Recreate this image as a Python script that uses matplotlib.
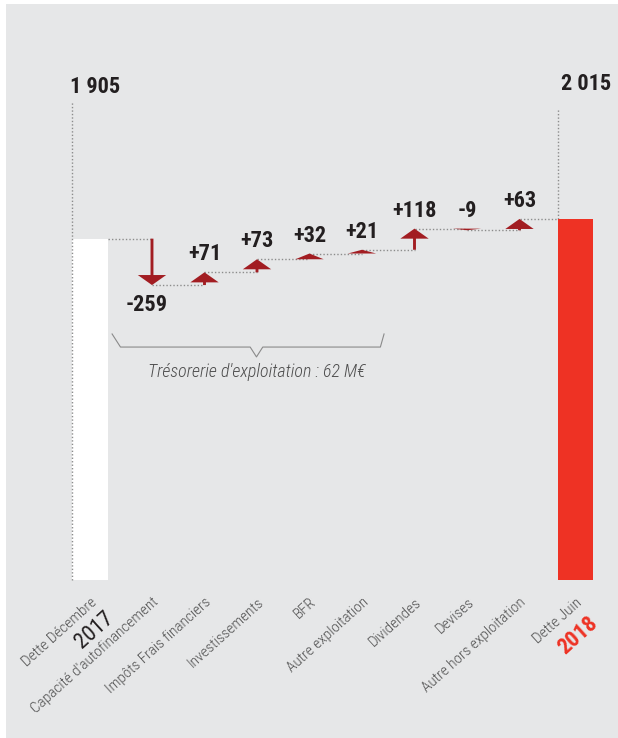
import matplotlib
matplotlib.use("Agg")
import matplotlib.pyplot as plt
import numpy as np
from matplotlib import font_manager as fm
from matplotlib.patches import Rectangle, FancyArrow

# data
categories = ["Dette Décembre", "Capacité d'autofinancement", "Impôts Frais financiers",
              "Investissements", "BFR", "Autre exploitation", "Dividendes", "Devises",
              "Autre hors exploitation", "Dette Juin"]
years = ["2017", "2018"]
start_debt = 1905
end_debt = 2015
changes = [-259, 71, 73, 32, 21, 118, -9, 63]
change_labels = ["-259", "+71", "+73", "+32", "+21", "+118", "-9", "+63"]
total_labels = ["1 905", "2 015"]
bracket_text = "Trésorerie d'exploitation : 62 M€"

# pick a narrow font if there is one
names = {f.name for f in fm.fontManager.ttflist}
stretch = "normal"
if "Liberation Sans Narrow" in names:
    fam = ["Liberation Sans Narrow", "DejaVu Sans"]
elif "Roboto Condensed" in names:
    fam = ["Roboto Condensed", "DejaVu Sans"]
else:
    fam = ["DejaVu Sans"]
    stretch = "condensed"
plt.rcParams["font.family"] = fam
plt.rcParams["font.stretch"] = stretch

BG = "#e6e7e8"
DARK = "#a21d22"
RED = "#ee3224"
DOT = "#8c8c8c"
TXT = "#231f20"
GREY_TXT = "#4d4d4d"
ROT = 42

fig = plt.figure(figsize=(6.18, 7.38), dpi=100, facecolor="white")
fig.patches.append(Rectangle((6 / 618, 0), 612 / 618, 734 / 738, transform=fig.transFigure,
                             facecolor=BG, edgecolor="none", zorder=-10))
ax = fig.add_axes([0, 0, 1, 1])
ax.set_facecolor("none")
ax.set_xlim(-1.895, 9.876)
ax.set_ylim(-882, 3237)
ax.axis("off")

xs = np.arange(len(categories), dtype=float)
xs[0] -= 0.18
xs[-1] += 0.06
bw = 0.67

# end bars
ax.bar([xs[0], xs[-1]], [start_debt, end_debt], width=bw, color=["white", RED], zorder=2)

# vertical dotted guides and totals
ax.plot([xs[0] - bw / 2] * 2, [0, 2670], ls=(0, (1, 1.5)), color=DOT, lw=1, zorder=3)
ax.plot([xs[-1] - bw / 2] * 2, [end_debt, 2630], ls=(0, (1, 1.5)), color=DOT, lw=1, zorder=1)
ax.text(xs[0] + 0.1, 2750, total_labels[0], ha="center", va="center", fontsize=16,
        fontweight="bold", color=TXT)
ax.text(xs[-1] + 0.2, 2770, total_labels[1], ha="center", va="center", fontsize=16,
        fontweight="bold", color=TXT)

# arrows
levels = start_debt + np.concatenate([[0], np.cumsum(changes)])
ax.plot([xs[0] + bw / 2, xs[1]], [levels[0]] * 2, ls=(0, (1, 1.5)), color=DOT, lw=1, zorder=1)
for i, d in enumerate(changes):
    x = xs[i + 1]
    y0 = levels[i]
    hl = min(56, abs(d))
    ax.add_patch(FancyArrow(x, y0, 0, d, width=0.055, head_width=0.54, head_length=hl,
                            length_includes_head=True, color=DARK, lw=0, zorder=4))
    nxt = xs[i + 2] - (bw / 2 if i + 2 == len(xs) - 1 else 0)
    ax.plot([x, nxt], [levels[i + 1]] * 2, ls=(0, (1, 1.5)), color=DOT, lw=1, zorder=1)
    if d < -100:
        ax.text(x - 0.1, levels[i + 1] - 110, change_labels[i], ha="center", va="center",
                fontsize=16, fontweight="bold", color=TXT)
    else:
        ax.text(x, max(y0, levels[i + 1]) + 100, change_labels[i], ha="center", va="center",
                fontsize=16, fontweight="bold", color=TXT)

# category labels
for i, c in enumerate(categories):
    ax.text(xs[i], -85, c, rotation=ROT, rotation_mode="anchor", ha="right", va="top",
            fontsize=11, fontweight="light", color=GREY_TXT)
ax.annotate(years[0], (xs[0], -85), xytext=(10, -9), textcoords="offset points",
            rotation=ROT, rotation_mode="anchor", ha="right", va="top", fontsize=16, color=TXT)
ax.annotate(years[1], (xs[-1], -85), xytext=(9, -12), textcoords="offset points",
            rotation=ROT, rotation_mode="anchor", ha="right", va="top", fontsize=16,
            fontweight="bold", color=RED)

# bracket under the operating items
bx = [xs[1] - 0.76, xs[1] - 0.6, xs[3] - 0.13, xs[3] - 0.01, xs[3] + 0.11, xs[5] + 0.35, xs[5] + 0.42]
by = [1373, 1300, 1300, 1245, 1300, 1300, 1373]
ax.plot(bx, by, color="#8a8a8a", lw=0.8, zorder=2)
ax.text(xs[3] - 0.01, 1160, bracket_text, ha="center", va="center", fontsize=13,
        style="italic", fontweight="light", color=GREY_TXT)

fig.savefig("out.png", dpi=100, facecolor="white")
